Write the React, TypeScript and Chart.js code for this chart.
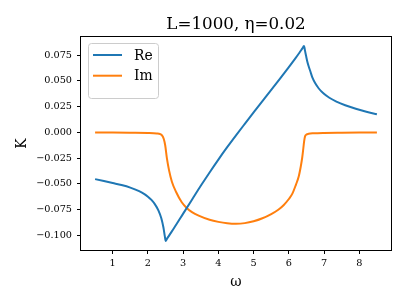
import { useEffect, useRef } from 'react';
import { Chart, registerables } from 'chart.js';

Chart.register(...registerables);

const titleText = 'L=1000, η=0.02';
const xLabel = 'ω';
const yLabel = 'K';
const seriesNames = ['Re', 'Im'];
const seriesColors = ['#1f77b4', '#ff7f0e'];

const xTickValues = [1, 2, 3, 4, 5, 6, 7, 8];
const yTickValues = [-0.1, -0.075, -0.05, -0.025, 0, 0.025, 0.05, 0.075];

const reOmega = [
  0.5, 0.75, 1.0, 1.25, 1.5, 1.75, 1.9, 2.0, 2.1, 2.2, 2.3, 2.38, 2.44, 2.48, 2.505, 2.53, 2.6,
  2.75, 3.0, 3.25, 3.5, 3.75, 4.0, 4.25, 4.5, 4.75, 5.0, 5.25, 5.5, 5.75, 6.0, 6.18, 6.3, 6.38,
  6.43, 6.46, 6.49, 6.52, 6.56, 6.61, 6.67, 6.75, 6.85, 6.98, 7.15, 7.35, 7.6, 7.9, 8.2, 8.5,
];
const reValues = [
  -0.0455, -0.0474, -0.0493, -0.0512, -0.0537, -0.0572, -0.06, -0.0625, -0.0657, -0.07, -0.076,
  -0.0835, -0.0925, -0.101, -0.1055, -0.104, -0.1003, -0.0925, -0.079, -0.0655, -0.052, -0.039,
  -0.0265, -0.0145, -0.003, 0.0082, 0.0193, 0.0302, 0.0411, 0.0521, 0.0633, 0.0715, 0.0772,
  0.0812, 0.0837, 0.079, 0.074, 0.0693, 0.0643, 0.0592, 0.053, 0.0475, 0.0425, 0.0378, 0.0335,
  0.0298, 0.0262, 0.0228, 0.0199, 0.0175,
];

const imOmega = [
  0.5, 1.0, 1.5, 2.0, 2.25, 2.35, 2.4, 2.45, 2.49, 2.54, 2.6, 2.68, 2.8, 2.96, 3.1, 3.25, 3.44,
  3.75, 4.0, 4.25, 4.5, 4.75, 5.0, 5.25, 5.5, 5.7, 5.85, 6.0, 6.1, 6.2, 6.28, 6.34, 6.38, 6.41,
  6.435, 6.46, 6.5, 6.56, 6.7, 7.0, 7.5, 8.0, 8.5,
];
const imValues = [
  -0.0003, -0.0003, -0.0004, -0.0006, -0.0011, -0.0018, -0.003, -0.0065, -0.0126, -0.0256, -0.037,
  -0.048, -0.058, -0.068, -0.0735, -0.0775, -0.081, -0.085, -0.087, -0.0883, -0.0888, -0.0882,
  -0.0864, -0.0835, -0.0794, -0.0752, -0.0708, -0.0648, -0.0596, -0.051, -0.043, -0.033, -0.0245,
  -0.016, -0.0085, -0.004, -0.0022, -0.0015, -0.001, -0.0006, -0.0004, -0.0003, -0.0003,
];

const serif = "'DejaVu Serif', serif";

const framePlugin = {
  id: 'frameAndLegend',
  afterDraw(chart: any) {
    const { ctx, chartArea: a } = chart;
    ctx.save();
    ctx.strokeStyle = '#000';
    ctx.lineWidth = 1;
    ctx.strokeRect(a.left - 0.5, a.top - 0.5, a.right - a.left + 1, a.bottom - a.top + 1);

    // title centred over the plot area
    ctx.fillStyle = '#000';
    ctx.font = `16.7px ${serif}`;
    ctx.textAlign = 'center';
    ctx.textBaseline = 'alphabetic';
    ctx.fillText(titleText, (a.left + a.right) / 2, 28.5);

    // legend box
    const bx = a.left + 7;
    const by = a.top + 6;
    const bw = 70;
    const bh = 55;
    ctx.beginPath();
    ctx.roundRect(bx + 0.5, by + 0.5, bw, bh, 3);
    ctx.fillStyle = 'rgba(255,255,255,0.8)';
    ctx.fill();
    ctx.strokeStyle = '#cccccc';
    ctx.lineWidth = 1;
    ctx.stroke();

    chart.data.datasets.forEach((ds: any, i: number) => {
      const y = a.top + 18 + i * 20.7;
      ctx.beginPath();
      ctx.moveTo(a.left + 12, y);
      ctx.lineTo(a.left + 41, y);
      ctx.strokeStyle = ds.borderColor;
      ctx.lineWidth = 2;
      ctx.stroke();
      ctx.fillStyle = '#000';
      ctx.font = `13.9px ${serif}`;
      ctx.textBaseline = 'middle';
      ctx.textAlign = 'left';
      ctx.fillText(ds.label, a.left + 53, y + 1);
    });
    ctx.restore();
  },
};

export default function App() {
  const ref = useRef<HTMLCanvasElement | null>(null);

  useEffect(() => {
    if (!ref.current) return;
    const chart = new Chart(ref.current, {
      type: 'line',
      data: {
        datasets: [
          {
            label: seriesNames[0],
            data: reOmega.map((x, i) => ({ x, y: reValues[i] })),
            borderColor: seriesColors[0],
            borderWidth: 2,
            pointRadius: 0,
            cubicInterpolationMode: 'monotone',
          },
          {
            label: seriesNames[1],
            data: imOmega.map((x, i) => ({ x, y: imValues[i] })),
            borderColor: seriesColors[1],
            borderWidth: 2,
            pointRadius: 0,
            cubicInterpolationMode: 'monotone',
          },
        ],
      },
      options: {
        animation: false,
        responsive: true,
        maintainAspectRatio: false,
        layout: { padding: { left: 0, right: 16, top: 37, bottom: 0 } },
        plugins: {
          legend: { display: false },
          tooltip: { enabled: false },
          title: { display: false },
        },
        scales: {
          x: {
            type: 'linear',
            min: 0.1,
            max: 8.9,
            afterFit(scale: any) {
              scale.height = 55;
            },
            afterBuildTicks(scale: any) {
              scale.ticks = xTickValues.map((v) => ({ value: v }));
            },
            grid: { drawOnChartArea: false, drawTicks: true, tickLength: 4, color: '#000' },
            border: { display: false },
            ticks: {
              color: '#000',
              font: { family: serif, size: 9.7 },
              padding: 4,
              maxRotation: 0,
              callback: (v: any) => String(v),
            },
            title: {
              display: true,
              text: xLabel,
              color: '#000',
              font: { family: serif, size: 13.9 },
              padding: { top: 0, bottom: 14 },
            },
          },
          y: {
            type: 'linear',
            min: -0.1143,
            max: 0.0925,
            afterFit(scale: any) {
              scale.width = 81;
            },
            afterBuildTicks(scale: any) {
              scale.ticks = yTickValues.map((v) => ({ value: v }));
            },
            grid: { drawOnChartArea: false, drawTicks: true, tickLength: 4, color: '#000' },
            border: { display: false },
            ticks: {
              color: '#000',
              font: { family: serif, size: 9.7 },
              padding: 5,
              callback: (v: any) => {
                const n = Number(v);
                const s = Math.abs(n).toFixed(3);
                return n < -1e-9 ? '\u2212' + s : s;
              },
            },
            title: {
              display: true,
              text: yLabel,
              color: '#000',
              font: { family: serif, size: 13.9 },
              padding: { top: 14, bottom: 0 },
            },
          },
        },
      },
      plugins: [framePlugin],
    } as any);
    return () => chart.destroy();
  }, []);

  return (
    <div style={{ position: 'fixed', left: 0, top: 0, width: 407, height: 305, background: '#fff' }}>
      <canvas ref={ref} />
    </div>
  );
}
